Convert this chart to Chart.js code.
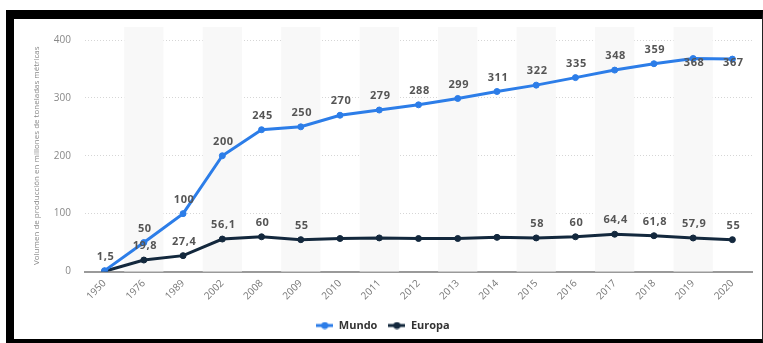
<!DOCTYPE html>
<html>
<head>
<meta charset="utf-8">
<script src="https://cdn.jsdelivr.net/npm/chart.js@4"></script>
<style>
  html, body { margin: 0; padding: 0; background: #fff; }
  body { width: 763px; height: 343px; position: relative; overflow: hidden; }
  #frame {
    position: absolute; left: 6px; top: 10px; width: 757px; height: 333px;
    box-sizing: border-box; background: #fff;
    border-top: 9px solid #000; border-left: 8px solid #000;
    border-bottom: 4px solid #000; border-right: 1px solid #222;
  }
  #wrap { position: absolute; left: 14px; top: 19px; width: 748px; height: 322px; }
</style>
</head>
<body>
<div id="frame"></div>
<div id="wrap"><canvas id="chart"></canvas></div>
<script>
// Producción de plásticos (millones de toneladas métricas)
const years = ['1950', '1976', '1989', '2002', '2008', '2009', '2010', '2011', '2012',
               '2013', '2014', '2015', '2016', '2017', '2018', '2019', '2020'];
const mundo = [1.5, 50, 100, 200, 245, 250, 270, 279, 288, 299, 311, 322, 335, 348, 359, 368, 367];
const europa = [0.35, 19.8, 27.4, 56.1, 60, 55, 57, 58, 57, 57, 59, 58, 60, 64.4, 61.8, 57.9, 55];

// which value labels are left out, and which sit on the point instead of above it
const europaHiddenLabels = [0, 6, 7, 8, 9, 10];
const mundoLabelsOnPoint = [15, 16];

const blue = '#2c7de8';
const navy = '#13283d';
const font = '"Open Sans", sans-serif';

function fmt(v) {
    return String(v).replace('.', ',');
}

// line + dot marker for the legend
function legendMarker(color) {
    const c = document.createElement('canvas');
    c.width = 17;
    c.height = 8;
    const g = c.getContext('2d');
    g.strokeStyle = color;
    g.lineWidth = 3;
    g.beginPath();
    g.moveTo(0, 4);
    g.lineTo(17, 4);
    g.stroke();
    g.fillStyle = color;
    g.beginPath();
    g.arc(8.5, 4, 3.5, 0, Math.PI * 2);
    g.fill();
    return c;
}
const markers = [legendMarker(blue), legendMarker(navy)];

// alternating light column bands behind the lines
const bandsPlugin = {
    id: 'bands',
    beforeDatasetsDraw(chart) {
        const {ctx, chartArea, scales: {x}} = chart;
        const w = x.width / years.length;
        ctx.save();
        ctx.fillStyle = '#f8f8f8';
        years.forEach((_, i) => {
            if (i % 2 === 1) {
                const cx = x.getPixelForValue(i);
                ctx.fillRect(cx - w / 2, chartArea.top - 13, w, chartArea.bottom - chartArea.top + 13);
            }
        });
        ctx.restore();
    }
};

// value labels above the points
const valueLabelsPlugin = {
    id: 'valueLabels',
    afterDatasetsDraw(chart) {
        const ctx = chart.ctx;
        ctx.save();
        ctx.font = 'bold 11px ' + font;
        ctx.fillStyle = '#555';
        ctx.textAlign = 'center';
        ctx.textBaseline = 'middle';
        ctx.letterSpacing = '0.6px';
        chart.data.datasets.forEach((ds, di) => {
            const meta = chart.getDatasetMeta(di);
            meta.data.forEach((pt, i) => {
                if (di === 1 && europaHiddenLabels.includes(i)) return;
                let y = pt.y - 14;
                if (di === 0 && mundoLabelsOnPoint.includes(i)) y = pt.y + 4;
                ctx.fillText(fmt(ds.data[i]), pt.x + 1, y);
            });
        });
        ctx.restore();
    }
};

new Chart(document.getElementById('chart'), {
    type: 'line',
    data: {
        labels: years,
        datasets: [
            {
                label: 'Mundo',
                data: mundo,
                borderColor: blue,
                backgroundColor: blue,
                borderWidth: 3,
                pointRadius: 3,
                pointBorderWidth: 1,
                pointHoverRadius: 3,
                tension: 0
            },
            {
                label: 'Europa',
                data: europa,
                borderColor: navy,
                backgroundColor: navy,
                borderWidth: 3,
                pointRadius: 3,
                pointBorderWidth: 1,
                pointHoverRadius: 3,
                tension: 0
            }
        ]
    },
    options: {
        responsive: true,
        maintainAspectRatio: false,
        animation: false,
        layout: { padding: { left: 0, right: 10, top: 21, bottom: 0 } },
        plugins: {
            tooltip: { enabled: false },
            legend: {
                position: 'bottom',
                labels: {
                    usePointStyle: true,
                    pointStyleWidth: 17,
                    padding: 11,
                    color: '#333',
                    font: { family: font, size: 11, weight: 'bold' },
                    generateLabels(chart) {
                        const items = Chart.defaults.plugins.legend.labels.generateLabels(chart);
                        items.forEach((it, i) => { it.pointStyle = markers[i]; });
                        return items;
                    }
                }
            }
        },
        scales: {
            x: {
                offset: true,
                grid: { display: false, drawTicks: false },
                border: { display: true, color: '#9a9a9a', width: 2 },
                ticks: {
                    color: '#777',
                    font: { family: font, size: 10 },
                    minRotation: 45,
                    maxRotation: 45,
                    padding: 6,
                    autoSkip: false
                },
                afterFit(scale) { scale.height = 37.5; }
            },
            y: {
                min: 0,
                max: 400,
                ticks: {
                    stepSize: 100,
                    color: '#888',
                    font: { family: font, size: 10 },
                    padding: 14
                },
                grid: {
                    drawTicks: false,
                    color: ctx => ctx.tick && ctx.tick.value === 0 ? 'rgba(0,0,0,0)' : '#d6d6d6',
                    lineWidth: 1
                },
                border: { display: false, dash: [1, 2] },
                title: {
                    display: true,
                    text: 'Volumen de producción en millones de toneladas métricas',
                    color: '#888',
                    font: { family: font, size: 8 },
                    padding: { top: 18, bottom: 0 }
                },
                afterFit(scale) { scale.width = 71; }
            }
        }
    },
    plugins: [bandsPlugin, valueLabelsPlugin]
});
</script>
</body>
</html>
